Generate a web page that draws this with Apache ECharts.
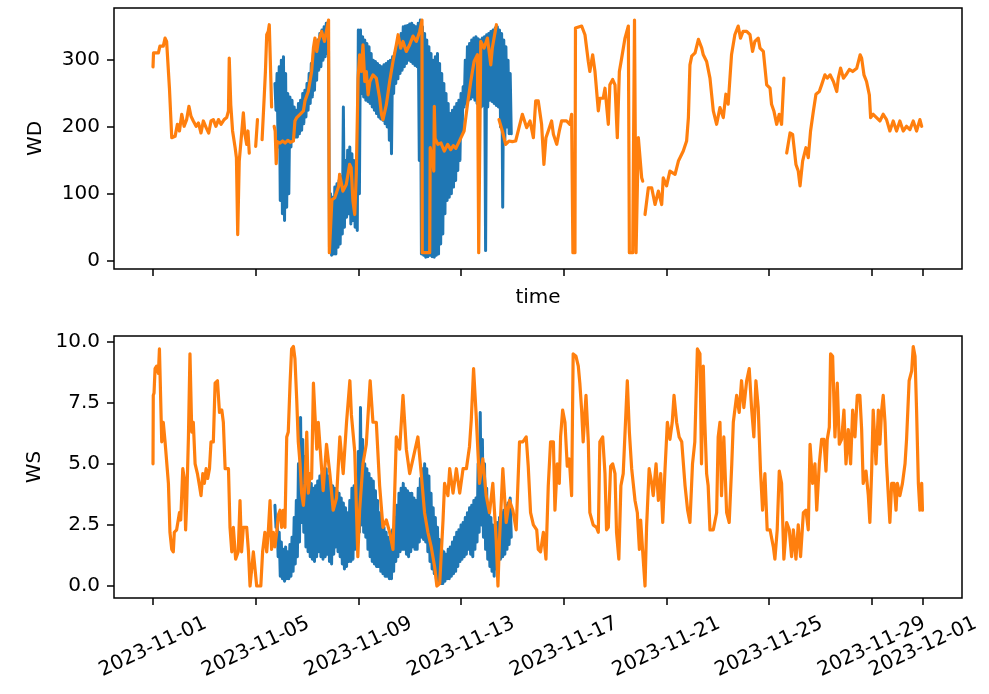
<!DOCTYPE html>
<html>
<head>
<meta charset="utf-8">
<script src="https://cdn.jsdelivr.net/npm/echarts@6/dist/echarts.min.js"></script>
<style>
  html, body { margin: 0; padding: 0; background: #fff; }
  #chart { width: 989px; height: 694px; }
</style>
</head>
<body>
<div id="chart"></div>
<script>
// Time is measured in days from 2023-11-01 00:00 (UTC).
const tickDays = [0, 4, 8, 12, 16, 20, 24, 28, 30];
const wdTicks = [0, 100, 200, 300];
const wsTicks = [0, 2.5, 5, 7.5, 10];

// Station A: hourly record, 2023-11-05 18:00 onwards.
const blueStartDay = 4.75;
const blueStepDays = 1 / 24;
const blueWD = [
  265,225,280,170, 290,90,300,70, 305,60,280,80, 250,100,245,170,
  240,180,230,185, 225,185,235,190, 240,195,250,205, 255,215,265,225,
  280,235,295,245, 310,255,320,270, 330,285,340,290, 345,300,350,305,
  355,310,358,20, 100,8,95,10, 110,10,115,20, 120,25,125,40,
  230,50,150,65, 165,70,170,55, 160,60,150,50, 140,45,345,100,
  345,250,335,245, 330,240,325,238, 320,235,310,230, 300,225,298,220,
  295,215,292,212, 290,210,293,205, 295,200,298,180, 300,160,305,250,
  310,265,320,272, 330,280,340,285, 350,290,351,295, 352,300,354,298,
  355,295,352,292, 350,290,355,150, 360,10,350,8, 340,5,330,6,
  320,8,310,6, 300,5,305,8, 310,10,295,25, 280,40,265,70,
  250,90,235,95, 220,100,225,110, 230,120,235,135, 240,150,250,190,
  260,230,300,235, 320,240,325,242, 330,245,333,240, 335,235,332,232,
  330,230,333,232, 335,15,338,230, 340,240,343,238, 345,235,348,232,
  350,230,345,200, 340,80,330,180, 320,200,300,190, 280,190];
const blueWS = [
  3.3,2.4,2.8,1.2, 2.2,0.4,1.8,0.3, 1.5,0.2,1.6,0.3, 1.4,0.3,1.7,0.4,
  2.0,0.6,2.8,0.9, 3.5,1.2,5.0,1.8, 6.9,2.6,6.0,2.2, 5.3,1.6,4.9,1.4,
  4.5,1.2,4.2,1.1, 4.0,1.0,4.1,1.2, 4.3,1.4,4.5,1.2, 4.6,1.1,4.7,1.2,
  4.8,1.3,4.5,1.0, 4.3,0.9,4.1,1.3, 4.0,1.6,3.9,1.4, 3.8,1.2,3.6,0.9,
  3.4,0.7,3.2,0.8, 3.0,1.0,3.5,1.0, 4.0,1.1,4.1,1.5, 4.2,1.8,5.5,2.2,
  7.3,2.5,6.0,2.2, 5.0,2.0,4.8,1.5, 4.6,1.2,4.4,1.0, 4.3,0.9,3.9,0.8,
  3.5,0.8,3.0,0.6, 2.6,0.5,2.4,0.4, 2.2,0.4,2.0,0.3, 1.8,0.3,2.3,0.6,
  2.8,1.0,3.3,1.2, 3.8,1.4,4.0,1.5, 4.2,1.5,4.0,1.3, 3.9,1.2,3.8,1.4,
  3.8,1.6,3.6,1.5, 3.5,1.5,4.0,1.8, 4.4,2.0,4.8,1.9, 5.0,1.8,4.8,1.4,
  4.5,1.0,3.8,0.7, 3.2,0.5,2.8,0.3, 2.4,0.2,1.9,0.1, 1.5,0.1,1.4,0.2,
  1.3,0.3,1.5,0.3, 1.6,0.4,1.8,0.5, 2.0,0.6,2.2,0.8, 2.3,1.0,2.5,1.1,
  2.6,1.2,2.8,1.3, 3.0,1.5,3.2,1.3, 3.3,1.2,3.5,1.5, 3.6,1.8,5.0,2.2,
  7.1,2.5,6.0,2.0, 5.0,1.5,4.0,1.1, 3.0,0.8,2.8,0.6, 2.5,0.4,2.5,0.7,
  2.6,1.0,2.8,1.1, 3.0,1.2,3.1,1.3, 3.3,1.5,3.4,1.7, 3.6,2.0];

// Station B: [day, value]; null marks a gap in the record.
const orangeWD = [[0.0,290],[0.02,311],[0.21,311],[0.27,321],[0.40,321],[0.47,333],[0.53,328],[0.64,258],[0.73,184],[0.86,186],
  [0.95,204],[1.03,194],[1.12,219],[1.21,201],[1.31,211],[1.40,231],[1.48,216],[1.57,209],[1.68,201],[1.77,206],
  [1.87,191],[1.96,209],[2.07,199],[2.17,191],[2.26,209],[2.35,211],[2.45,201],[2.55,211],[2.65,204],[2.77,211],
  [2.87,214],[2.94,224],[2.97,303],[3.03,233],[3.10,194],[3.20,169],[3.25,154],[3.30,39],[3.36,149],[3.44,184],
  [3.52,221],[3.58,189],[3.65,174],[3.70,194],[3.75,161],[3.80,null],[4.0,171],[4.07,211],[4.12,null],[4.25,181],
  [4.33,243],[4.38,283],[4.43,338],[4.49,343],[4.53,353],[4.57,300],[4.62,230],[4.66,null],[4.72,201],[4.76,194],
  [4.80,145],[4.84,178],[4.95,176],[5.05,179],[5.15,176],[5.25,180],[5.35,177],[5.47,179],[5.53,209],[5.60,214],
  [5.73,219],[5.86,224],[5.92,239],[6.05,253],[6.18,283],[6.25,318],[6.31,333],[6.38,313],[6.44,328],[6.57,343],
  [6.68,328],[6.77,346],[6.84,360],[6.87,12],[6.93,12],[6.97,91],[7.08,94],[7.23,111],[7.27,129],[7.40,104],
  [7.53,114],[7.66,144],[7.72,139],[7.79,89],[7.86,69],[7.92,129],[7.99,273],[8.05,308],[8.12,283],[8.18,323],
  [8.25,268],[8.31,283],[8.38,248],[8.45,268],[8.57,278],[8.70,273],[8.83,243],[8.90,219],[8.96,211],[9.09,233],
  [9.22,268],[9.35,298],[9.48,323],[9.55,338],[9.65,318],[9.74,328],[9.87,313],[10.0,323],[10.13,336],[10.26,328],
  [10.39,343],[10.48,360],[10.49,12],[10.78,12],[10.80,169],[10.88,154],[10.94,134],[10.96,231],[10.99,183],[11.10,174],
  [11.22,176],[11.35,164],[11.48,174],[11.60,166],[11.70,172],[11.80,168],[11.95,180],[12.12,194],[12.25,233],[12.38,268],
  [12.51,298],[12.64,308],[12.69,12],[12.72,12],[12.77,328],[12.90,318],[13.03,333],[13.16,293],[13.22,318],[13.31,338],
  [13.38,353],[13.42,null],[13.48,211],[13.61,194],[13.74,174],[13.87,179],[14.0,178],[14.13,179],[14.26,199],[14.39,219],
  [14.56,199],[14.69,209],[14.82,184],[14.91,239],[15.01,239],[15.14,204],[15.23,144],[15.31,184],[15.40,194],[15.53,209],
  [15.60,189],[15.73,174],[15.83,194],[15.92,209],[16.11,209],[16.24,204],[16.31,219],[16.36,12],[16.44,12],[16.46,348],
  [16.70,351],[16.83,338],[16.96,298],[17.02,283],[17.13,308],[17.22,283],[17.35,224],[17.41,243],[17.54,243],[17.61,258],
  [17.74,204],[17.80,263],[17.91,271],[18.0,263],[18.09,184],[18.17,283],[18.26,303],[18.39,333],[18.52,351],[18.56,12],
  [18.69,12],[18.76,360],[18.82,12],[18.86,12],[18.91,184],[19.04,124],[19.08,119],[19.12,null],[19.17,69],[19.30,109],
  [19.43,109],[19.56,84],[19.69,104],[19.82,84],[19.88,124],[20.01,112],[20.14,134],[20.34,129],[20.47,149],[20.66,164],
  [20.79,179],[20.86,214],[20.92,293],[20.99,306],[21.12,311],[21.25,331],[21.38,318],[21.44,308],[21.57,298],[21.70,273],
  [21.83,224],[21.96,204],[22.09,229],[22.22,214],[22.32,249],[22.41,234],[22.54,308],[22.67,338],[22.80,351],[22.89,333],
  [22.99,343],[23.13,343],[23.26,338],[23.36,313],[23.45,328],[23.58,333],[23.65,318],[23.78,313],[23.91,263],[24.04,258],
  [24.10,234],[24.19,224],[24.30,204],[24.40,219],[24.49,204],[24.58,273],[24.63,null],[24.69,161],[24.82,191],[24.92,189],
  [25.05,144],[25.14,134],[25.21,112],[25.31,149],[25.44,169],[25.53,154],[25.62,194],[25.73,224],[25.83,249],[25.96,253],
  [26.05,263],[26.18,278],[26.27,273],[26.38,278],[26.51,268],[26.64,253],[26.70,273],[26.79,288],[26.90,273],[27.0,278],
  [27.13,286],[27.26,283],[27.42,288],[27.55,308],[27.61,303],[27.70,278],[27.80,268],[27.91,248],[27.96,214],[28.06,219],
  [28.19,214],[28.32,209],[28.45,219],[28.58,211],[28.71,194],[28.84,209],[28.97,194],[29.10,209],[29.23,194],[29.36,201],
  [29.49,196],[29.62,209],[29.75,194],[29.88,211],[29.95,201]];

const orangeWS = [[0.0,5.0],[0.01,7.8],[0.04,7.9],[0.08,8.9],[0.14,9.0],[0.21,8.7],[0.25,9.7],[0.30,9.7],[0.34,5.9],[0.40,6.7],
  [0.47,5.9],[0.53,5.9],[0.60,4.2],[0.66,2.2],[0.73,1.5],[0.79,1.4],[0.83,2.2],[0.92,2.3],[1.03,3.0],[1.08,2.7],
  [1.16,4.8],[1.22,4.4],[1.27,2.3],[1.31,3.3],[1.38,6.1],[1.44,9.5],[1.51,6.3],[1.57,6.7],[1.64,5.0],[1.73,4.6],
  [1.81,4.1],[1.87,3.7],[1.94,4.6],[2.0,4.2],[2.07,4.8],[2.13,4.4],[2.20,4.8],[2.26,5.9],[2.35,5.9],[2.42,8.3],
  [2.51,8.4],[2.59,7.1],[2.68,7.2],[2.74,6.7],[2.81,4.8],[2.94,4.8],[3.0,2.4],[3.07,1.4],[3.13,2.4],[3.22,1.1],
  [3.32,1.4],[3.39,3.5],[3.45,1.4],[3.52,2.4],[3.65,2.4],[3.72,1.4],[3.78,0.0],[3.84,0.0],[3.91,1.4],[3.97,1.4],
  [4.04,0.0],[4.20,0.0],[4.27,1.4],[4.36,2.2],[4.43,1.4],[4.49,2.2],[4.56,3.5],[4.62,1.5],[4.69,2.2],[4.75,1.6],
  [4.82,2.2],[4.88,2.9],[4.95,3.1],[5.01,2.4],[5.08,3.1],[5.14,2.4],[5.21,6.1],[5.27,6.3],[5.34,8.3],[5.40,9.7],
  [5.47,9.8],[5.53,9.3],[5.60,7.6],[5.66,5.9],[5.73,5.0],[5.79,3.8],[5.86,3.3],[5.92,4.2],[5.99,6.3],[6.05,3.8],
  [6.12,4.6],[6.18,4.4],[6.25,8.3],[6.31,7.0],[6.38,5.6],[6.44,6.7],[6.51,6.7],[6.63,3.9],[6.76,5.8],[6.89,4.6],
  [7.02,3.1],[7.15,3.6],[7.28,6.1],[7.41,4.6],[7.54,6.7],[7.67,8.4],[7.73,7.0],[7.86,5.5],[7.98,1.2],[8.05,3.1],
  [8.18,5.0],[8.31,5.8],[8.46,8.4],[8.57,6.7],[8.70,6.7],[8.83,4.1],[8.96,2.4],[9.09,2.7],[9.22,2.2],[9.35,1.5],
  [9.48,6.1],[9.61,5.6],[9.74,7.8],[9.87,5.6],[10.0,4.6],[10.13,5.2],[10.32,6.1],[10.45,4.6],[10.58,3.0],[10.71,2.2],
  [10.84,1.6],[10.97,0.8],[11.06,0.0],[11.17,0.1],[11.30,2.7],[11.36,4.2],[11.49,3.7],[11.56,4.8],[11.69,3.8],[11.82,4.8],
  [11.95,3.8],[12.08,4.8],[12.21,4.8],[12.33,5.7],[12.40,6.8],[12.49,8.9],[12.59,7.0],[12.72,4.2],[12.85,5.2],[12.98,3.7],
  [13.11,3.0],[13.24,4.2],[13.37,1.9],[13.44,0.0],[13.50,1.9],[13.63,4.8],[13.76,2.6],[13.89,3.5],[14.02,3.1],[14.15,2.3],
  [14.28,5.9],[14.41,5.9],[14.54,6.1],[14.62,4.9],[14.71,3.0],[14.82,2.5],[14.95,2.3],[15.01,1.5],[15.10,1.4],[15.21,2.2],
  [15.31,1.1],[15.40,4.1],[15.49,5.9],[15.60,5.9],[15.66,3.1],[15.75,5.0],[15.83,4.2],[15.88,6.1],[15.96,7.2],[16.05,6.7],
  [16.14,4.9],[16.22,5.2],[16.31,3.7],[16.37,9.5],[16.48,9.4],[16.57,9.0],[16.63,8.3],[16.70,7.2],[16.76,5.9],[16.87,7.8],
  [16.96,5.9],[17.02,3.0],[17.15,2.5],[17.28,2.4],[17.35,2.2],[17.41,5.9],[17.52,6.1],[17.61,4.6],[17.67,2.3],[17.74,2.4],
  [17.83,4.9],[17.91,5.0],[18.0,4.6],[18.06,2.2],[18.15,1.1],[18.23,4.1],[18.32,4.6],[18.43,7.2],[18.48,8.4],[18.56,6.3],
  [18.65,4.8],[18.71,4.2],[18.78,3.5],[18.87,3.0],[18.95,1.5],[19.0,2.7],[19.08,1.4],[19.17,0.0],[19.23,2.4],[19.33,4.8],
  [19.43,4.2],[19.49,3.7],[19.60,5.0],[19.69,3.5],[19.78,4.6],[19.86,2.6],[19.95,4.8],[20.04,6.7],[20.14,6.0],[20.23,6.7],
  [20.30,7.8],[20.40,6.7],[20.50,6.1],[20.60,5.9],[20.73,4.1],[20.83,3.1],[20.92,2.6],[21.02,5.0],[21.11,5.9],[21.21,9.7],
  [21.31,9.5],[21.37,5.0],[21.44,9.0],[21.50,6.7],[21.57,4.6],[21.63,4.1],[21.70,2.3],[21.83,2.3],[21.96,3.0],[22.02,6.1],
  [22.09,6.7],[22.15,3.7],[22.24,6.1],[22.35,3.0],[22.45,2.6],[22.55,5.0],[22.61,6.7],[22.74,7.8],[22.84,7.1],[22.93,8.4],
  [23.02,7.3],[23.13,8.4],[23.23,8.9],[23.32,7.3],[23.41,6.1],[23.49,8.4],[23.58,7.3],[23.67,4.7],[23.75,3.1],[23.84,4.6],
  [23.93,2.3],[24.04,2.3],[24.17,1.6],[24.23,1.1],[24.32,2.3],[24.40,4.7],[24.49,4.2],[24.58,1.1],[24.69,2.6],[24.79,2.3],
  [24.88,1.2],[24.95,2.3],[25.05,1.1],[25.14,2.5],[25.23,1.2],[25.34,3.0],[25.44,3.1],[25.53,2.3],[25.60,5.8],[25.70,4.2],
  [25.79,5.0],[25.86,3.1],[25.96,5.0],[26.05,6.0],[26.14,6.0],[26.22,4.7],[26.27,6.0],[26.35,6.5],[26.40,9.5],[26.48,9.4],
  [26.57,6.1],[26.66,8.3],[26.74,5.8],[26.83,6.0],[26.92,7.2],[27.0,5.0],[27.09,6.4],[27.18,5.0],[27.26,7.2],[27.35,6.1],
  [27.44,7.8],[27.54,7.8],[27.61,6.4],[27.67,4.2],[27.78,4.7],[27.87,3.7],[27.93,2.6],[28.0,4.7],[28.06,7.2],[28.17,5.0],
  [28.26,7.2],[28.32,5.8],[28.39,7.2],[28.45,7.8],[28.52,6.7],[28.58,5.0],[28.65,3.7],[28.71,2.6],[28.78,4.2],[28.87,4.2],
  [28.95,3.1],[29.0,4.2],[29.10,3.7],[29.20,4.2],[29.30,5.0],[29.36,6.0],[29.46,8.4],[29.56,8.8],[29.62,9.8],[29.69,9.4],
  [29.75,7.2],[29.82,4.2],[29.88,3.1],[29.95,4.2],[29.98,3.1]];

const BLUE = '#1f77b4';
const ORANGE = '#ff7f0e';
const FONT = 'DejaVu Sans';
const FS = 20;
const DAY_MS = 86400000;
const ORIGIN = Date.UTC(2023, 10, 1);

function dayLabel(v) {
  const d = new Date(ORIGIN + Math.round(v) * DAY_MS);
  const mm = String(d.getUTCMonth() + 1).padStart(2, '0');
  const dd = String(d.getUTCDate()).padStart(2, '0');
  return d.getUTCFullYear() + '-' + mm + '-' + dd;
}

function stepSeries(start, step, values) {
  return values.map((v, i) => [start + i * step, v]);
}

const tickStyle = { show: true, inside: false, length: 7, lineStyle: { color: '#000', width: 1.5 } };

function xAxis(gridIndex, showLabels, name) {
  return {
    type: 'value', gridIndex, min: -1.52, max: 31.52, position: 'bottom',
    axisLine: { show: false, onZero: false },
    splitLine: { show: false },
    axisTick: Object.assign({ customValues: tickDays }, tickStyle),
    axisLabel: showLabels ? {
      customValues: tickDays, formatter: dayLabel, rotate: 25,
      align: 'center', verticalAlign: 'middle', margin: 49,
      color: '#000', fontFamily: FONT, fontSize: FS
    } : { show: false },
    name: name || '', nameLocation: 'middle', nameGap: 19,
    nameTextStyle: { color: '#000', fontFamily: FONT, fontSize: FS }
  };
}

function yAxis(gridIndex, min, max, ticks, fmt, name) {
  return {
    type: 'value', gridIndex, min, max, position: 'left',
    axisLine: { show: false, onZero: false },
    splitLine: { show: false },
    axisTick: Object.assign({ customValues: ticks }, tickStyle),
    axisLabel: { customValues: ticks, formatter: fmt, margin: 14, color: '#000', fontFamily: FONT, fontSize: FS },
    name, nameLocation: 'middle', nameRotate: 90, nameGap: 68,
    nameTextStyle: { color: '#000', fontFamily: FONT, fontSize: FS }
  };
}

function line(xi, data, color, width) {
  return {
    type: 'line', xAxisIndex: xi, yAxisIndex: xi, data,
    showSymbol: false, connectNulls: false, sampling: null,
    lineStyle: { color, width, join: 'round', cap: 'round' },
    itemStyle: { color }
  };
}

const chart = echarts.init(document.getElementById('chart'), null, { renderer: 'canvas' });
chart.setOption({
  animation: false,
  backgroundColor: '#fff',
  grid: [
    { left: 114, top: 8, width: 848, height: 261, show: true, borderColor: '#000', borderWidth: 1.5, backgroundColor: 'transparent' },
    { left: 114, top: 336, width: 848, height: 262, show: true, borderColor: '#000', borderWidth: 1.5, backgroundColor: 'transparent' }
  ],
  xAxis: [xAxis(0, false, 'time'), xAxis(1, true)],
  yAxis: [
    yAxis(0, -12.5, 378, wdTicks, v => String(v), 'WD'),
    yAxis(1, -0.49, 10.23, wsTicks, v => v.toFixed(1), 'WS')
  ],
  series: [
    line(0, stepSeries(blueStartDay, blueStepDays, blueWD), BLUE, 3),
    line(0, orangeWD, ORANGE, 3.2),
    line(1, stepSeries(blueStartDay, blueStepDays, blueWS), BLUE, 3),
    line(1, orangeWS, ORANGE, 3.2)
  ]
});
</script>
</body>
</html>
